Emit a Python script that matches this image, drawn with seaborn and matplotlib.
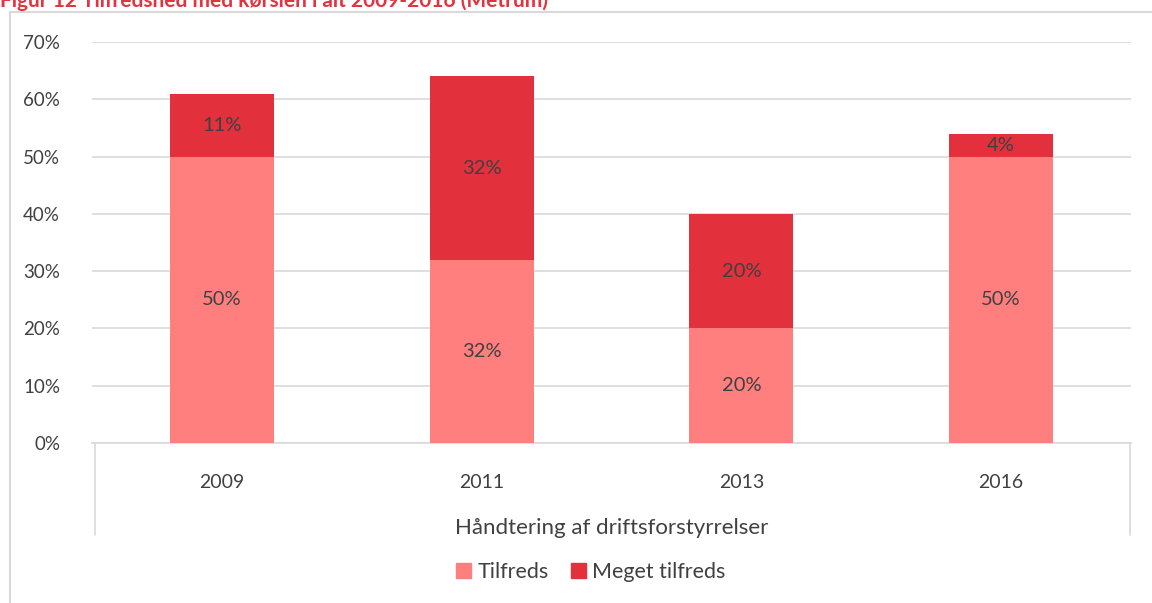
import numpy as np
import pandas as pd
import matplotlib.pyplot as plt
import seaborn as sns
from matplotlib.lines import Line2D
from matplotlib.patches import Rectangle

# Data
years = ['2009', '2011', '2013', '2016']
tilfreds = [50, 32, 20, 50]
meget_tilfreds = [11, 32, 20, 4]
yticks = [0, 10, 20, 30, 40, 50, 60, 70]

light_red = '#FF7F7F'
dark_red = '#E2303D'
text_col = '#404040'
grid_col = '#D9D9D9'

sns.set_theme(style="white")
plt.rcParams['font.family'] = ['Lato', 'DejaVu Sans']

df = pd.DataFrame({'year': years, 'Tilfreds': tilfreds, 'Meget tilfreds': meget_tilfreds})
df['total'] = df['Tilfreds'] + df['Meget tilfreds']

fig = plt.figure(figsize=(11.52, 6.03), dpi=100)
ax = fig.add_axes([92 / 1152, 1 - 443 / 603, 1039 / 1152, 401 / 603])

# stacked bars: total in dark red, Tilfreds over it in light red
sns.barplot(data=df, x='year', y='total', color=dark_red, saturation=1,
            width=0.4, ax=ax, zorder=2, linewidth=0, edgecolor='none')
sns.barplot(data=df, x='year', y='Tilfreds', color=light_red, saturation=1,
            width=0.4, ax=ax, zorder=3, linewidth=0, edgecolor='none')

n = len(years)
for i in range(n):
    lo = tilfreds[i]
    hi = meget_tilfreds[i]
    ax.text(i, lo / 2, f'{lo}%', ha='center', va='center', fontsize=14.5, color=text_col, zorder=4)
    ax.text(i, lo + hi / 2, f'{hi}%', ha='center', va='center', fontsize=14.5, color=text_col, zorder=4)

ax.set_ylim(0, 70)
ax.set_xlim(-0.5, n - 0.5)
ax.set_yticks(yticks)
ax.set_yticklabels([f'{t}%' for t in yticks], fontsize=13.5, color=text_col)
ax.yaxis.grid(True, color=grid_col, linewidth=1.2, zorder=0)
ax.set_axisbelow(True)
for s in ['top', 'right', 'left']:
    ax.spines[s].set_visible(False)
ax.spines['bottom'].set_color(grid_col)
ax.spines['bottom'].set_linewidth(1.2)
ax.tick_params(axis='y', length=0, pad=23)
ax.tick_params(axis='x', length=0, pad=22, labelsize=14, labelcolor=text_col)
ax.set_xlabel('Håndtering af driftsforstyrrelser', fontsize=16, color=text_col, labelpad=20)
ax.set_ylabel('')

# category group box lines
for xpix in [95, 1130]:
    fig.add_artist(Line2D([xpix / 1152, xpix / 1152], [1 - 443 / 603, 1 - 535 / 603],
                          color=grid_col, linewidth=1.2))

# outer frame of the chart area
fig.add_artist(Line2D([10 / 1152, 10 / 1152], [0, 1 - 12 / 603], color=grid_col, linewidth=1.5))
fig.add_artist(Line2D([10 / 1152, 1], [1 - 12 / 603, 1 - 12 / 603], color=grid_col, linewidth=1.5))

# title, cut at the top edge as in the source
fig.text(0.0, 1 - 1 / 603, 'Figur 12 Tilfredshed med kørslen i alt 2009-2016 (Metrum)',
         fontsize=15, fontweight='bold', color='#E5323F', ha='left', va='center')

# legend
handles = [Rectangle((0, 0), 1, 1, color=light_red), Rectangle((0, 0), 1, 1, color=dark_red)]
fig.legend(handles, ['Tilfreds', 'Meget tilfreds'], loc='center', ncol=2,
           bbox_to_anchor=(0.513, 1 - 572 / 603), frameon=False, fontsize=15.5,
           handlelength=0.7, handleheight=0.7, handletextpad=0.3, columnspacing=1.0,
           labelcolor=text_col)

fig.savefig('out.png', dpi=100)
